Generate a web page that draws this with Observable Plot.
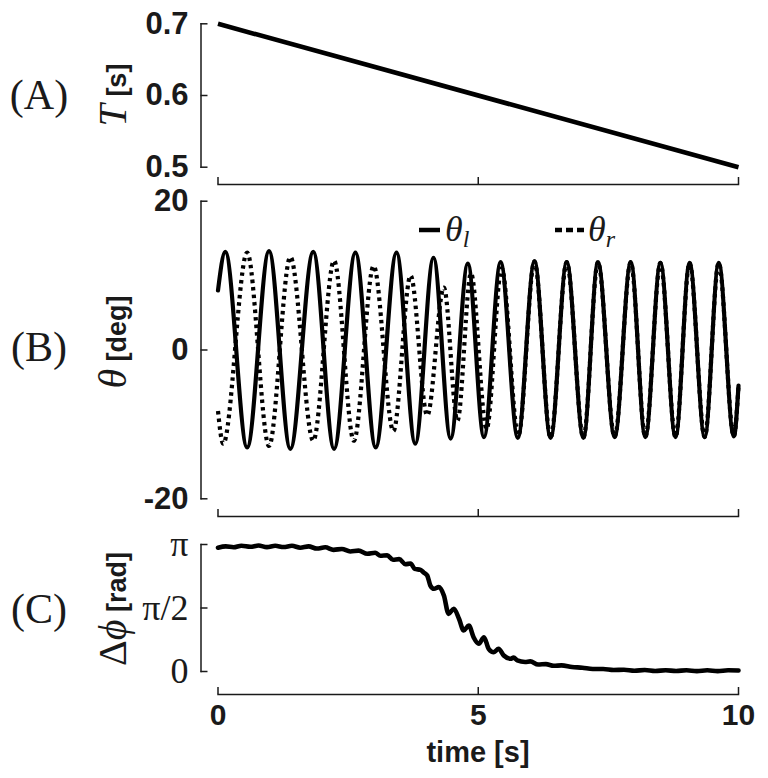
<!DOCTYPE html>
<html>
<head>
<meta charset="utf-8">
<script src="https://cdn.jsdelivr.net/npm/d3@7"></script>
<script src="https://cdn.jsdelivr.net/npm/@observablehq/plot@0.6"></script>
<style>
  body { margin: 0; background: #fff; }
  #fig { width: 768px; height: 778px; position: relative; overflow: hidden; background: #fff; }
</style>
</head>
<body>
<div id="fig"></div>
<script>
// ---------- data ----------
const timeTicks = [0, 5, 10];

// (A) period T [s]
const periodTime = [0, 10];
const periodValue = [0.7, 0.5];
const periodTicks = [0.5, 0.6, 0.7];

// (B) theta_l (solid) – turning points and end points [deg]
const thetaLTime = [0, 0.14, 0.56, 0.98, 1.39, 1.83, 2.23, 2.64, 3.03, 3.43, 3.79, 4.14, 4.47, 4.80, 5.11, 5.43, 5.76, 6.08, 6.39, 6.70, 7.02, 7.30, 7.62, 7.93, 8.21, 8.50, 8.79, 9.06, 9.35, 9.62, 9.91, 10];
const thetaLValue = [8.0, 13.2, -13.1, 13.3, -13.3, 13.2, -13.3, 13.1, -13.1, 13.1, -12.6, 12.4, -11.9, 11.6, -11.7, 11.8, -11.8, 11.9, -11.8, 11.8, -11.8, 11.8, -11.7, 11.8, -11.7, 11.7, -11.7, 11.7, -11.7, 11.7, -11.6, -4.8];

// (B) theta_r (dotted) – turning points and end points [deg]
const thetaRTime = [0, 0.10, 0.56, 0.98, 1.39, 1.83, 2.23, 2.61, 2.99, 3.37, 3.70, 4.02, 4.34, 4.60, 4.86, 5.16, 5.45, 5.77, 6.08, 6.39, 6.70, 7.02, 7.30, 7.62, 7.93, 8.21, 8.50, 8.79, 9.06, 9.35, 9.62, 9.91, 10];
const thetaRValue = [-8.2, -12.6, 13.1, -12.9, 12.5, -12.2, 12.0, -12.2, 11.3, -10.9, 10.0, -8.8, 8.4, -9.5, 10.3, -10.6, 11.0, -11.5, 11.9, -11.8, 11.8, -11.8, 11.8, -11.7, 11.8, -11.7, 11.7, -11.7, 11.7, -11.7, 11.7, -11.6, -4.8];
const thetaTicks = [-20, 0, 20];

// (C) phase difference, in units of pi
const phaseTime = [0, 0.15, 0.30, 0.45, 0.62, 0.78, 0.94, 1.10, 1.26, 1.42, 1.58, 1.74, 1.90, 2.06, 2.22, 2.38, 2.54, 2.70, 2.87, 3.02, 3.12, 3.25, 3.36, 3.48, 3.60, 3.70, 3.78, 3.89, 3.95, 4.02, 4.08, 4.15, 4.24, 4.34, 4.43, 4.53, 4.63, 4.72, 4.82, 4.91, 5.01, 5.11, 5.20, 5.30, 5.39, 5.49, 5.62, 5.68, 5.75, 5.90, 6.00, 6.15, 6.30, 6.45, 6.60, 6.80, 7.00, 7.20, 7.40, 7.60, 7.80, 8.00, 8.20, 8.40, 8.60, 8.80, 9.00, 9.20, 9.40, 9.60, 9.80, 10];
const phaseValue = [0.975, 0.985, 0.978, 0.99, 0.982, 0.992, 0.979, 0.99, 0.98, 0.99, 0.975, 0.985, 0.968, 0.978, 0.958, 0.965, 0.945, 0.952, 0.927, 0.935, 0.912, 0.915, 0.88, 0.885, 0.845, 0.85, 0.808, 0.80, 0.78, 0.756, 0.677, 0.651, 0.664, 0.598, 0.454, 0.494, 0.415, 0.323, 0.362, 0.27, 0.218, 0.27, 0.179, 0.152, 0.179, 0.126, 0.10, 0.11, 0.087, 0.075, 0.08, 0.055, 0.058, 0.045, 0.048, 0.035, 0.03, 0.02, 0.02, 0.012, 0.014, 0.006, 0.012, 0.004, 0.01, 0.004, 0.01, 0.003, 0.01, 0.003, 0.01, 0.008];
const phaseTicks = [0, 0.5, 1];
const phaseTickLabels = ["0", "π/2", "π"];

// ---------- tables ----------
const periodData = periodTime.map((t, i) => ({t, v: periodValue[i]}));
const thetaL = thetaLTime.map((t, i) => ({t, v: thetaLValue[i]}));
const thetaR = thetaRTime.map((t, i) => ({t, v: thetaRValue[i]}));
const phaseData = phaseTime.map((t, i) => ({t, v: phaseValue[i]}));

// ---------- layout ----------
const W = 768, X0 = 217.5, X1 = 738;
const INK = "#1a1a1a";
const SANS = "'Liberation Sans', Arial, sans-serif";
const SERIF = "'Liberation Serif', 'DejaVu Serif', serif";
const fig = document.getElementById("fig");

function panel({top, height, frameTop, frameBottom, yDomain, yTicks, yFormat, yFont, ySize, xOffset, showX, marks}) {
  const serif = yFont === SERIF;
  const svg = Plot.plot({
    width: W, height,
    marginLeft: X0, marginRight: W - X1,
    marginTop: frameTop - top, marginBottom: top + height - frameBottom,
    x: {domain: [0, 10]},
    y: {domain: yDomain},
    style: {fontFamily: SANS, fontWeight: "bold", fontSize: "30px", color: INK, overflow: "visible", background: "transparent"},
    marks: [
      Plot.frame({anchor: "left", dx: -17, stroke: INK, strokeWidth: 1.5}),
      Plot.axisY(yTicks, {anchor: "left", tickSize: -7, dx: -17, tickPadding: 19.5, tickFormat: yFormat, fontFamily: yFont, fontSize: ySize, fontWeight: serif ? "normal" : "bold", label: null, strokeWidth: 1.5}),
      Plot.frame({anchor: "bottom", dy: xOffset, stroke: INK, strokeWidth: 1.5}),
      Plot.axisX(timeTicks, {anchor: "bottom", tickSize: -7, dy: xOffset, tickPadding: 16, tickFormat: d => String(d), fill: showX ? INK : "none", strokeWidth: 1.5, label: null}),
      ...marks
    ]
  });
  svg.style.position = "absolute";
  svg.style.top = top + "px";
  svg.style.left = "0px";
  fig.appendChild(svg);
  return {sel: d3.select(svg), top};
}

function addText(p, x, y, parts, {anchor = "middle", rotate = 0} = {}) {
  const t = p.sel.append("text")
    .attr("transform", `translate(${x},${y - p.top}) rotate(${rotate})`)
    .attr("text-anchor", anchor)
    .attr("fill", INK);
  for (const q of parts) {
    const s = t.append("tspan").text(q.text)
      .attr("font-family", q.family)
      .attr("font-size", q.size)
      .attr("font-weight", q.weight || "normal")
      .attr("font-style", q.style || "normal");
    if (q.dy) s.attr("dy", q.dy);
  }
}

// ---------- panel A ----------
const pA = panel({
  top: 0, height: 188, frameTop: 23.3, frameBottom: 166.7,
  yDomain: [0.5, 0.7], yTicks: periodTicks, yFormat: d => d.toFixed(1), yFont: SANS, ySize: 31,
  xOffset: 17.3, showX: false,
  marks: [Plot.line(periodData, {x: "t", y: "v", stroke: "#000", strokeWidth: 4.6, strokeLinecap: "butt"})]
});
addText(pA, 39, 109, [{text: "(A)", family: SERIF, size: 42}]);
addText(pA, 126, 95, [
  {text: "T", family: SERIF, size: 40, style: "italic"},
  {text: " [s]", family: SANS, size: 27, weight: "bold"}
], {rotate: -90});

// ---------- panel B ----------
const pB = panel({
  top: 188, height: 342, frameTop: 200.7, frameBottom: 498.3,
  yDomain: [-20, 20], yTicks: thetaTicks, yFormat: d => String(d), yFont: SANS, ySize: 31,
  xOffset: 17.7, showX: false,
  marks: [
    Plot.line(thetaL, {x: "t", y: "v", curve: "monotone-x", stroke: "#000", strokeWidth: 4.2}),
    Plot.line(thetaR, {x: "t", y: "v", curve: "monotone-x", stroke: "#000", strokeWidth: 4.2, strokeDasharray: "3.5,4", strokeLinecap: "butt"})
  ]
});
addText(pB, 39, 361, [{text: "(B)", family: SERIF, size: 42}]);
addText(pB, 126, 342, [
  {text: "θ", family: SERIF, size: 40, style: "italic"},
  {text: " [deg]", family: SANS, size: 27, weight: "bold"}
], {rotate: -90});
// legend
pB.sel.append("line").attr("x1", 419).attr("x2", 440).attr("y1", 230 - pB.top).attr("y2", 230 - pB.top)
  .attr("stroke", "#000").attr("stroke-width", 4.5);
addText(pB, 445, 241, [
  {text: "θ", family: SERIF, size: 36, style: "italic"},
  {text: "l", family: SERIF, size: 24, style: "italic", dy: 6}
], {anchor: "start"});
pB.sel.append("line").attr("x1", 555).attr("x2", 584).attr("y1", 230 - pB.top).attr("y2", 230 - pB.top)
  .attr("stroke", "#000").attr("stroke-width", 4.5).attr("stroke-dasharray", "7,4");
addText(pB, 588, 241, [
  {text: "θ", family: SERIF, size: 36, style: "italic"},
  {text: "r", family: SERIF, size: 24, style: "italic", dy: 6}
], {anchor: "start"});

// ---------- panel C ----------
const pC = panel({
  top: 530, height: 248, frameTop: 544, frameBottom: 671,
  yDomain: [0, 1], yTicks: phaseTicks, yFormat: d => phaseTickLabels[phaseTicks.indexOf(d)], yFont: SERIF, ySize: 36,
  xOffset: 23, showX: true,
  marks: [Plot.line(phaseData, {x: "t", y: "v", curve: "monotone-x", stroke: "#000", strokeWidth: 4.6})]
});
addText(pC, 39, 623, [{text: "(C)", family: SERIF, size: 42}]);
addText(pC, 126, 609, [
  {text: "Δ", family: SERIF, size: 40},
  {text: "ϕ", family: SERIF, size: 40, style: "italic"},
  {text: " [rad]", family: SANS, size: 27, weight: "bold"}
], {rotate: -90});
addText(pC, 478, 762, [{text: "time [s]", family: SANS, size: 29, weight: "bold"}]);
</script>
</body>
</html>
